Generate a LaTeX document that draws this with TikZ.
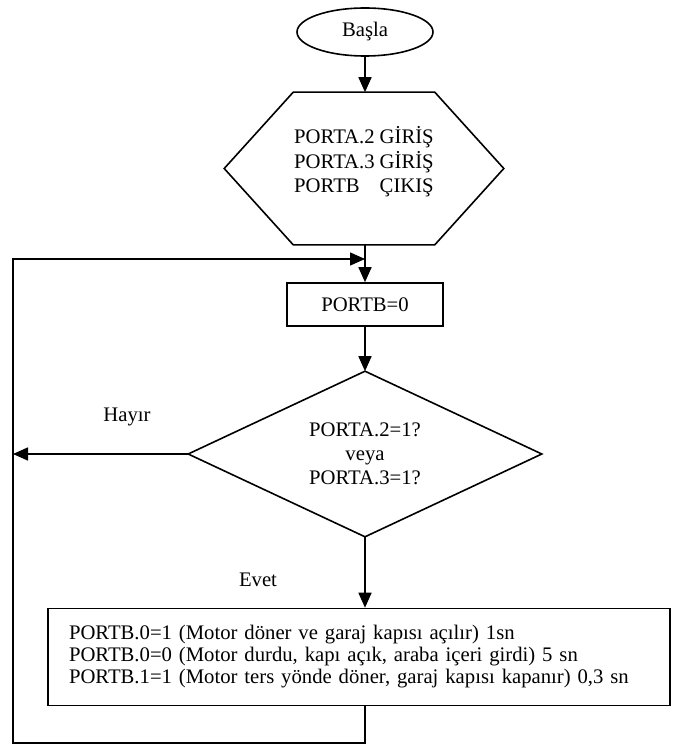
\documentclass[tikz,border=0pt]{standalone}
\usepackage{fontspec}
\setmainfont{Liberation Serif}
\usetikzlibrary{arrows.meta,shapes.geometric}
\begin{document}
\begin{tikzpicture}[x=1pt,y=-1pt,line width=1.6pt,
  flow/.style={-{Triangle[length=15pt,width=13pt]}},
  txt/.style={font=\fontsize{20.7}{22}\selectfont},
  terminal/.style={ellipse,draw,minimum width=136pt,minimum height=48pt,inner sep=0pt,txt},
  frame/.style={minimum width=#1,inner sep=0pt},
  procbox/.style={draw,rectangle,inner sep=0pt,txt},
  label/.style={inner sep=0pt,txt}]
\useasboundingbox (0,0) rectangle (672,746);

% start
\node[terminal] (start) at (365,32) {Başla};

% port setup (hexagon)
\node[frame=278pt,minimum height=151pt] (hex) at (364,168.5) {};
\draw (hex.west) -- ([xshift=69pt]hex.north west) -- ([xshift=-69pt]hex.north east)
  -- (hex.east) -- ([xshift=-69pt]hex.south east) -- ([xshift=69pt]hex.south west) -- cycle;
\node[label,font=\fontsize{20.7}{24}\selectfont] (hextext) at (364,163)
  {\begin{tabular}{@{}l@{\hspace{5pt}}r@{}}PORTA.2 & GİRİŞ\\PORTA.3 & GİRİŞ\\PORTB & ÇIKIŞ\end{tabular}};

% clear output
\node[procbox,minimum width=156pt,minimum height=43pt] (clr) at (365,304.5) {PORTB=0};

% decision (diamond)
\node[frame=352pt,minimum height=164pt,align=center,font=\fontsize{20.7}{24}\selectfont] (dec) at (365,454)
  {PORTA.2=1?\\veya\\PORTA.3=1?};
\draw (dec.north) -- (dec.east) -- (dec.south) -- (dec.west) -- cycle;

\node[label] (no) at (127,417) {Hayır};
\node[label] (yes) at (258,580) {Evet};

% action box
\node[procbox,minimum width=622pt,minimum height=97pt,text width=580pt,inner xsep=21pt,align=left] (act) at (359,657)
  {PORTB.0=1 (Motor döner ve garaj kapısı açılır) 1sn\\
   PORTB.0=0 (Motor durdu, kapı açık, araba içeri girdi) 5 sn\\
   PORTB.1=1 (Motor ters yönde döner, garaj kapısı kapanır) 0,3 sn};

% loop coordinates
\coordinate (join) at (365,259);
\coordinate (nohit) at (13,454);
\coordinate (bot) at (365,743);
\coordinate (botleft) at (13,743);
\coordinate (topleft) at (13,259);

% connectors
\draw[flow] (start.south) -- (start.south |- hex.north);
\draw[flow] (join |- hex.south) -- (clr.north);
\draw[flow] (clr.south) -- (dec.north);
\draw[flow] (dec.west) -- (nohit);
\draw[flow] (dec.south) -- (dec.south |- act.north);
\draw[flow] (bot |- act.south) -- (bot) -- (botleft) -- (topleft) -- (join);
\end{tikzpicture}
\end{document}
